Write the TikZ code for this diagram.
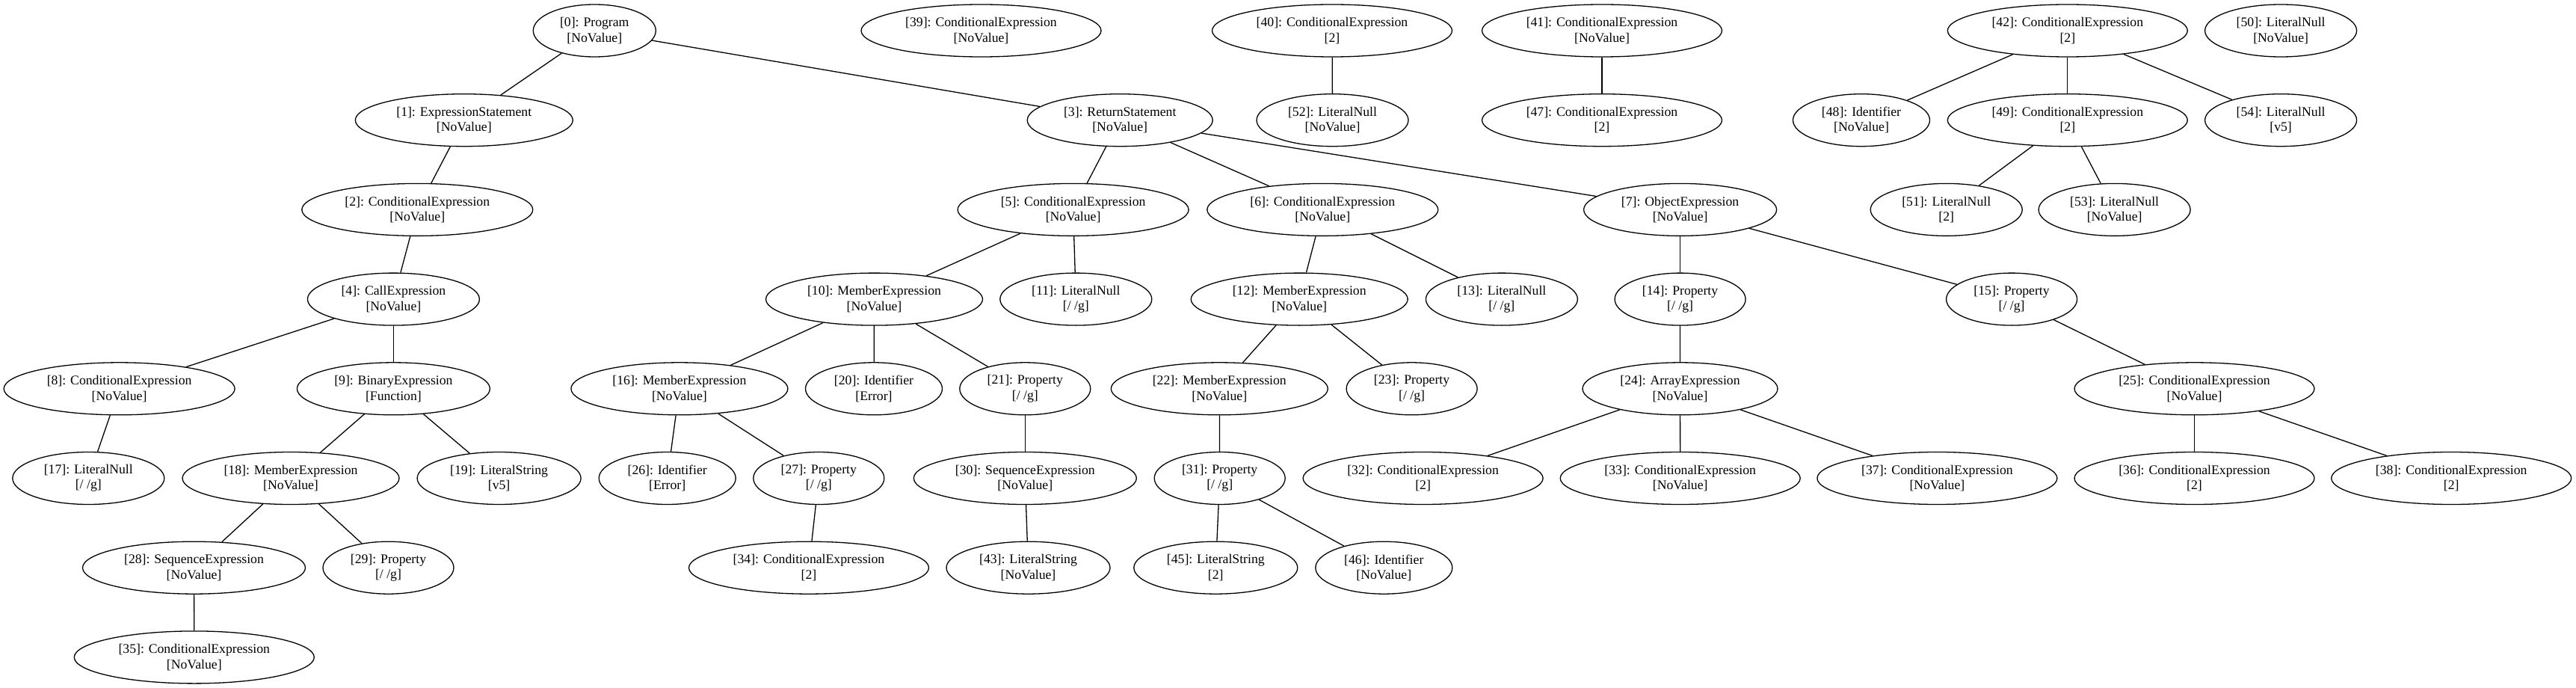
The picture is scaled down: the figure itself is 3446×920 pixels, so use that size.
\documentclass[tikz,border=0pt]{standalone}
\usepackage{fontspec}
\setmainfont{Liberation Serif}
\usetikzlibrary{shapes.geometric}
\begin{document}
\begin{tikzpicture}[x=1pt,y=1pt,
  el/.style={ellipse,draw,line width=1.3pt,inner sep=0pt,minimum height=70pt,align=center,
    font=\fontsize{17.7}{20.5}\selectfont},
  cond/.style={el,minimum width=309pt},
  condd/.style={el,minimum width=321pt},
  memb/.style={el,minimum width=290pt},
  prop/.style={el,minimum width=175pt},
  lnull/.style={el,minimum width=203pt},
  ident/.style={el,minimum width=183pt},
  lstr/.style={el,minimum width=219pt},
  seqe/.style={el,minimum width=298pt},
  edge/.style={line width=1.3pt}]
\useasboundingbox (0,0) rectangle (3446,-920);
% level 0
\node[el,minimum width=164pt] (n0) at (795.3,-41) {[0]: Program\\{}[NoValue]};
\node[condd] (n39) at (1312.5,-41) {[39]: ConditionalExpression\\{}[NoValue]};
\node[condd] (n40) at (1782,-41) {[40]: ConditionalExpression\\{}[2]};
\node[condd] (n41) at (2143,-41) {[41]: ConditionalExpression\\{}[NoValue]};
\node[condd] (n42) at (2765.8,-41) {[42]: ConditionalExpression\\{}[2]};
\node[lnull] (n50) at (3051.1,-41) {[50]: LiteralNull\\{}[NoValue]};
% level 1
\node[el,minimum width=291pt] (n1) at (620.8,-160.7) {[1]: ExpressionStatement\\{}[NoValue]};
\node[el,minimum width=248pt] (n3) at (1498.2,-160.7) {[3]: ReturnStatement\\{}[NoValue]};
\node[lnull] (n52) at (1782.5,-160.7) {[52]: LiteralNull\\{}[NoValue]};
\node[condd] (n47) at (2143,-160.7) {[47]: ConditionalExpression\\{}[2]};
\node[ident] (n48) at (2490,-160.7) {[48]: Identifier\\{}[NoValue]};
\node[condd] (n49) at (2765.8,-160.7) {[49]: ConditionalExpression\\{}[2]};
\node[lnull] (n54) at (3051.1,-160.7) {[54]: LiteralNull\\{}[v5]};
% level 2
\node[cond] (n2) at (558.3,-280.4) {[2]: ConditionalExpression\\{}[NoValue]};
\node[cond] (n5) at (1435.6,-280.4) {[5]: ConditionalExpression\\{}[NoValue]};
\node[cond] (n6) at (1769.3,-280.4) {[6]: ConditionalExpression\\{}[NoValue]};
\node[el,minimum width=258pt] (n7) at (2247.6,-280.4) {[7]: ObjectExpression\\{}[NoValue]};
\node[lnull] (n51) at (2603.7,-280.4) {[51]: LiteralNull\\{}[2]};
\node[lnull] (n53) at (2828.6,-280.4) {[53]: LiteralNull\\{}[NoValue]};
% level 3
\node[el,minimum width=230pt] (n4) at (526.4,-400.1) {[4]: CallExpression\\{}[NoValue]};
\node[memb] (n10) at (1169.5,-400.1) {[10]: MemberExpression\\{}[NoValue]};
\node[lnull] (n11) at (1439.3,-400.1) {[11]: LiteralNull\\{}[/ /g]};
\node[memb] (n12) at (1738.2,-400.1) {[12]: MemberExpression\\{}[NoValue]};
\node[lnull] (n13) at (2008.9,-400.1) {[13]: LiteralNull\\{}[/ /g]};
\node[prop] (n14) at (2247.6,-400.1) {[14]: Property\\{}[/ /g]};
\node[prop] (n15) at (2691.1,-400.1) {[15]: Property\\{}[/ /g]};
% level 4
\node[cond] (n8) at (159.6,-519.8) {[8]: ConditionalExpression\\{}[NoValue]};
\node[el,minimum width=258pt] (n9) at (526.4,-519.8) {[9]: BinaryExpression\\{}[Function]};
\node[memb] (n16) at (908.9,-519.8) {[16]: MemberExpression\\{}[NoValue]};
\node[ident] (n20) at (1169,-519.8) {[20]: Identifier\\{}[Error]};
\node[prop] (n21) at (1371.3,-519.8) {[21]: Property\\{}[/ /g]};
\node[memb] (n22) at (1631.3,-519.8) {[22]: MemberExpression\\{}[NoValue]};
\node[prop] (n23) at (1888.6,-519.8) {[23]: Property\\{}[/ /g]};
\node[el,minimum width=261pt] (n24) at (2247.5,-519.8) {[24]: ArrayExpression\\{}[NoValue]};
\node[condd] (n25) at (2935.5,-519.8) {[25]: ConditionalExpression\\{}[NoValue]};
% level 5
\node[lnull] (n17) at (118.3,-639.5) {[17]: LiteralNull\\{}[/ /g]};
\node[memb] (n18) at (389,-639.5) {[18]: MemberExpression\\{}[NoValue]};
\node[lstr] (n19) at (667.6,-639.5) {[19]: LiteralString\\{}[v5]};
\node[ident] (n26) at (892.7,-639.5) {[26]: Identifier\\{}[Error]};
\node[prop] (n27) at (1095.3,-639.5) {[27]: Property\\{}[/ /g]};
\node[seqe] (n30) at (1371.3,-639.5) {[30]: SequenceExpression\\{}[NoValue]};
\node[prop] (n31) at (1631.7,-639.5) {[31]: Property\\{}[/ /g]};
\node[condd] (n32) at (1903.6,-639.5) {[32]: ConditionalExpression\\{}[2]};
\node[condd] (n33) at (2247.7,-639.5) {[33]: ConditionalExpression\\{}[NoValue]};
\node[condd] (n37) at (2591.4,-639.5) {[37]: ConditionalExpression\\{}[NoValue]};
\node[condd] (n36) at (2935.5,-639.5) {[36]: ConditionalExpression\\{}[2]};
\node[condd] (n38) at (3279.2,-639.5) {[38]: ConditionalExpression\\{}[2]};
% level 6
\node[seqe] (n28) at (259.5,-759.2) {[28]: SequenceExpression\\{}[NoValue]};
\node[prop] (n29) at (519.5,-759.2) {[29]: Property\\{}[/ /g]};
\node[condd] (n34) at (1082,-759.2) {[34]: ConditionalExpression\\{}[2]};
\node[lstr] (n43) at (1375.5,-759.2) {[43]: LiteralString\\{}[NoValue]};
\node[lstr] (n45) at (1626.3,-759.2) {[45]: LiteralString\\{}[2]};
\node[ident] (n46) at (1851.3,-759.2) {[46]: Identifier\\{}[NoValue]};
% level 7
\node[condd] (n35) at (259.8,-878.9) {[35]: ConditionalExpression\\{}[NoValue]};
% edges
\foreach \a/\b in {0/1,0/3,1/2,2/4,4/8,4/9,8/17,9/18,9/19,18/28,18/29,28/35,
  3/5,3/6,3/7,5/10,5/11,6/12,6/13,7/14,7/15,10/16,10/20,10/21,12/22,12/23,
  14/24,15/25,16/26,16/27,21/30,22/31,24/32,24/33,24/37,25/36,25/38,27/34,
  30/43,31/45,31/46,40/52,41/47,42/48,42/49,42/54,49/51,49/53}
  \draw[edge] (n\a) -- (n\b);
\end{tikzpicture}
\end{document}
